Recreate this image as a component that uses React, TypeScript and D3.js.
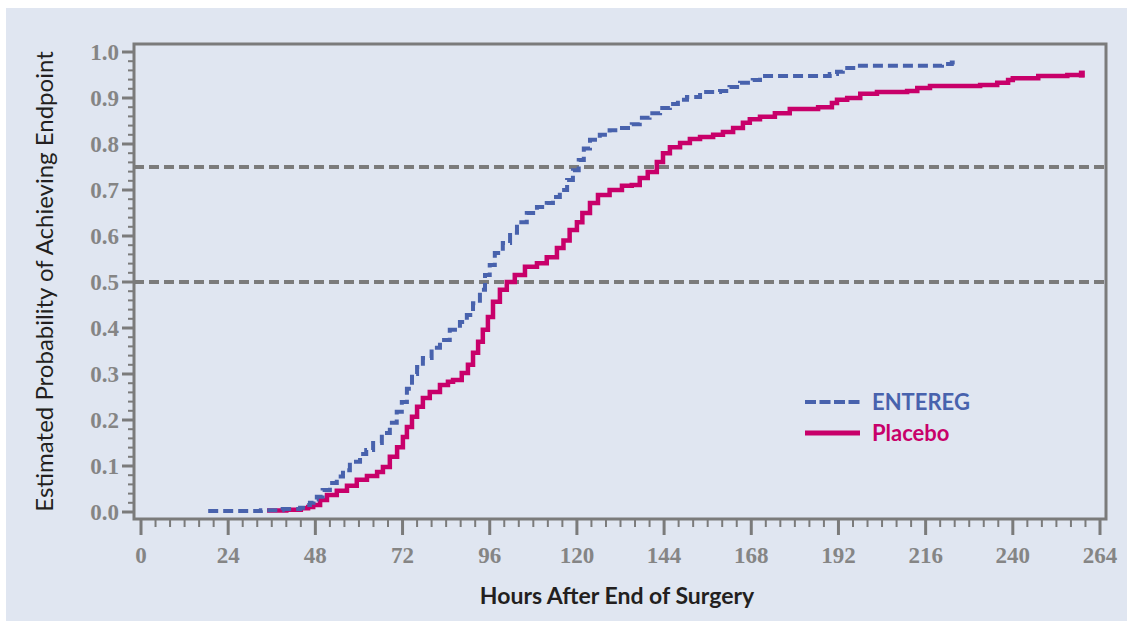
import React from "react";
import * as d3 from "d3";

// hours after surgery vs. estimated probability
const entereg: [number, number][] = [
  [18.5, 0.002], [33, 0.004], [39, 0.0065], [43.8, 0.009], [45.5, 0.015], [46.5, 0.02],
  [47.5, 0.027], [48.4, 0.033], [50, 0.048], [52, 0.063], [53.9, 0.077], [55.6, 0.091],
  [57.5, 0.109], [60.3, 0.126], [62, 0.135], [63.9, 0.15], [66.3, 0.172], [68.5, 0.194],
  [70.4, 0.218], [71.8, 0.239], [73.2, 0.268], [74.6, 0.3], [76, 0.315], [77.6, 0.335],
  [80, 0.357], [82.3, 0.374], [85, 0.396], [87.8, 0.413], [89.7, 0.428], [91.4, 0.454],
  [93.3, 0.483], [94.7, 0.515], [96, 0.537], [97.4, 0.563], [99.6, 0.585], [101.6, 0.607],
  [103.5, 0.63], [106.2, 0.65], [109, 0.663], [111.7, 0.672], [113.4, 0.685], [115.3, 0.7],
  [117.3, 0.722], [118.9, 0.743], [120.5, 0.765], [121.9, 0.79], [123.6, 0.809], [126.3, 0.82],
  [129, 0.83], [131.8, 0.835], [135.1, 0.843], [137.3, 0.857], [140, 0.867], [142.9, 0.878],
  [145.6, 0.887], [147.8, 0.896], [150.3, 0.902], [153.9, 0.913], [159.4, 0.915], [162, 0.924],
  [164.9, 0.933], [168.4, 0.939], [170.4, 0.948], [189.6, 0.952], [191.6, 0.957], [193.2, 0.965],
  [197, 0.97], [220.5, 0.974], [223.2, 0.977], [224.9, 0.978],
];

const placebo: [number, number][] = [
  [34.7, 0.003], [40, 0.005], [44, 0.008], [46, 0.011], [47.4, 0.015], [49.3, 0.026],
  [51.2, 0.037], [53.9, 0.046], [56.7, 0.057], [59.4, 0.07], [62.2, 0.078], [65, 0.087],
  [66.6, 0.098], [68.5, 0.12], [70.5, 0.141], [72.1, 0.163], [73.2, 0.185], [74.6, 0.207],
  [76, 0.229], [77.6, 0.248], [79.5, 0.261], [82.3, 0.276], [84.5, 0.283], [85.9, 0.287],
  [88.3, 0.302], [90, 0.32], [91.4, 0.346], [92.8, 0.37], [94.1, 0.396], [95.5, 0.424],
  [96.9, 0.457], [98.8, 0.483], [100.7, 0.5], [102.9, 0.515], [105.7, 0.533], [109, 0.541],
  [111.7, 0.554], [114.5, 0.574], [116.3, 0.59], [118, 0.613], [120, 0.63], [121.5, 0.65],
  [123.6, 0.672], [125.8, 0.689], [129, 0.7], [132.4, 0.709], [135.1, 0.711], [137.3, 0.726],
  [139.5, 0.739], [142, 0.761], [143.7, 0.78], [145.6, 0.793], [148.4, 0.802], [151.1, 0.811],
  [153.9, 0.815], [157.5, 0.82], [160.2, 0.826], [163, 0.835], [165.7, 0.846], [167.6, 0.854],
  [170.4, 0.859], [174.5, 0.867], [178.6, 0.876], [186.4, 0.88], [190.2, 0.889], [191.6, 0.896],
  [194.4, 0.9], [198, 0.909], [202.6, 0.913], [210.9, 0.915], [213.7, 0.922], [217.2, 0.926],
  [231, 0.928], [235.7, 0.933], [238.7, 0.939], [240, 0.943], [247, 0.948], [255, 0.95],
  [259, 0.952],
];

const xTicks = [0, 24, 48, 72, 96, 120, 144, 168, 192, 216, 240, 264];
const yTicks = [0, 0.1, 0.2, 0.3, 0.4, 0.5, 0.6, 0.7, 0.8, 0.9, 1.0];
const refLines = [0.5, 0.75];

const BLUE = "#4862ad";
const PINK = "#c8006a";
const GRAY = "#7b7b7b";
const TICK_FONT = "'Liberation Serif', serif";
const TITLE_FONT = "Lato, 'Open Sans', sans-serif";

const W = 1133;
const H = 629;
const frame = { left: 134, top: 44, right: 1106, bottom: 519 };

const App = () => {
  const x = d3.scaleLinear().domain([0, 264]).range([141, 1100]);
  const y = d3.scaleLinear().domain([0, 1]).range([512, 52]);

  const step = d3
    .line<[number, number]>()
    .x((d) => x(d[0]))
    .y((d) => y(d[1]))
    .curve(d3.curveStepAfter);

  const minorX = d3.range(0, 265, 4).filter((v) => v % 24 !== 0);
  const minorY = d3.range(0, 51).map((i) => i / 50).filter((_, i) => i % 5 !== 0);

  const lastP = placebo[placebo.length - 1];

  return (
    <svg width={W} height={H} style={{ position: "absolute", left: 0, top: 0 }}>
      <rect x={0} y={0} width={W} height={H} fill="#ffffff" />
      <rect x={6} y={8} width={1121} height={613} fill="#e0e6f1" />

      {/* reference lines */}
      {refLines.map((r) => (
        <line
          key={r}
          x1={frame.left}
          x2={frame.right}
          y1={y(r)}
          y2={y(r)}
          stroke={GRAY}
          strokeWidth={4}
          strokeDasharray="10,5"
        />
      ))}

      {/* curves */}
      <path d={step(placebo) || ""} fill="none" stroke={PINK} strokeWidth={4.5} />
      <rect x={x(lastP[0]) - 3} y={y(lastP[1]) - 3.5} width={6} height={7} fill={PINK} />
      <path
        d={step(entereg) || ""}
        fill="none"
        stroke={BLUE}
        strokeWidth={4}
        strokeDasharray="10,5"
      />

      {/* frame */}
      <rect
        x={frame.left}
        y={frame.top}
        width={frame.right - frame.left}
        height={frame.bottom - frame.top}
        fill="none"
        stroke={GRAY}
        strokeWidth={3}
      />

      {/* y axis */}
      {yTicks.map((t) => (
        <g key={t}>
          <line x1={frame.left - 12} x2={frame.left} y1={y(t)} y2={y(t)} stroke={GRAY} strokeWidth={3} />
          <text
            x={119}
            y={y(t)}
            dy="0.35em"
            textAnchor="end"
            fontFamily={TICK_FONT}
            fontWeight="bold"
            fontSize={23}
            fill="#858585"
          >
            {t.toFixed(1)}
          </text>
        </g>
      ))}
      {minorY.map((t) => (
        <line key={t} x1={frame.left - 6} x2={frame.left} y1={y(t)} y2={y(t)} stroke={GRAY} strokeWidth={2} />
      ))}

      {/* x axis */}
      {xTicks.map((t) => (
        <g key={t}>
          <line x1={x(t)} x2={x(t)} y1={frame.bottom} y2={frame.bottom + 16} stroke={GRAY} strokeWidth={3} />
          <text
            x={x(t)}
            y={563}
            textAnchor="middle"
            fontFamily={TICK_FONT}
            fontWeight="bold"
            fontSize={23}
            fill="#858585"
          >
            {t}
          </text>
        </g>
      ))}
      {minorX.map((t) => (
        <line key={t} x1={x(t)} x2={x(t)} y1={frame.bottom} y2={frame.bottom + 8} stroke={GRAY} strokeWidth={2} />
      ))}

      {/* titles */}
      <text
        x={617}
        y={604}
        textAnchor="middle"
        fontFamily={TITLE_FONT}
        fontWeight="bold"
        fontSize={23}
        fill="#231f20"
      >
        Hours After End of Surgery
      </text>
      <text
        transform={`translate(53, ${(frame.top + frame.bottom) / 2}) rotate(-90)`}
        textAnchor="middle"
        fontFamily={TITLE_FONT}
        fontSize={24}
        fill="#231f20"
      >
        Estimated Probability of Achieving Endpoint
      </text>

      {/* legend */}
      <line x1={805} x2={860} y1={402} y2={402} stroke={BLUE} strokeWidth={4} strokeDasharray="11,3.5" />
      <text x={872} y={410} fontFamily={TITLE_FONT} fontWeight="bold" fontSize={22} fill={BLUE}>
        ENTEREG
      </text>
      <line x1={805} x2={860} y1={433} y2={433} stroke={PINK} strokeWidth={5} />
      <text x={872} y={441} fontFamily={TITLE_FONT} fontWeight="bold" fontSize={22} fill={PINK}>
        Placebo
      </text>
    </svg>
  );
};

export default App;
